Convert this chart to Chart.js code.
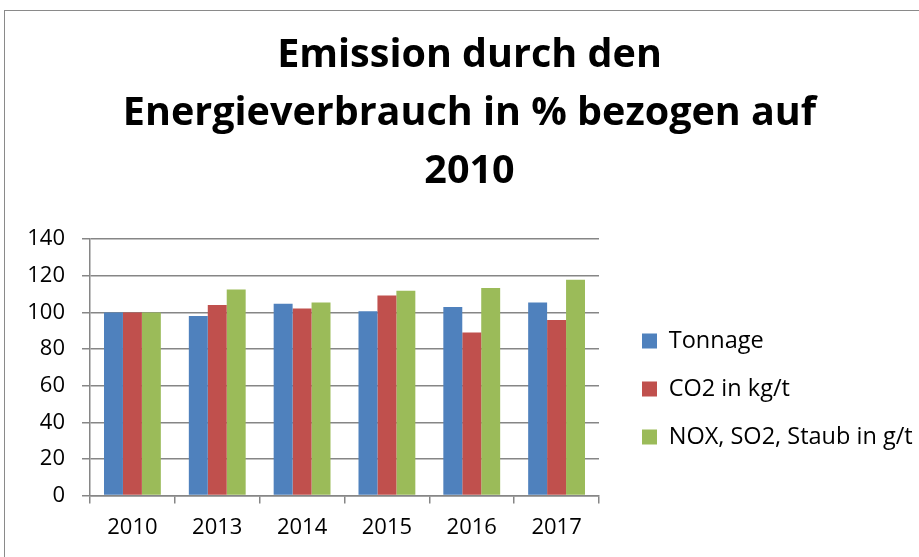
<!DOCTYPE html>
<html>
<head>
<meta charset="utf-8">
<script src="https://cdn.jsdelivr.net/npm/chart.js@4.4.1/dist/chart.umd.min.js"></script>
<style>
  html, body { margin: 0; padding: 0; background: #fff; }
  #wrap { position: relative; width: 919px; height: 557px; overflow: hidden; }
  #frame { position: absolute; left: 4px; top: 10px; width: 1000px; height: 1000px;
           border-left: 1.5px solid #8a8a8a; border-top: 1.5px solid #8a8a8a; }
  #chart { position: absolute; left: 0; top: 0; }
</style>
</head>
<body>
<div id="wrap">
  <div id="frame"></div>
  <canvas id="chart" width="919" height="557"></canvas>
</div>
<script>
const jahre = ['2010', '2013', '2014', '2015', '2016', '2017'];
const tonnage = [100, 98.1, 104.8, 100.6, 103, 105.5];
const co2 = [100, 104.1, 102.2, 109.2, 89, 95.9];
const staub = [100, 112.5, 105.4, 111.9, 113.4, 117.8];
const titelZeilen = ['Emission durch den', 'Energieverbrauch in % bezogen auf', '2010'];

const schrift = "'Open Sans', sans-serif";
const gitter = '#868686';

// Legende rechts: feste Breite, Kaestchen bei x=642, etwas tiefer gesetzt
const legendePlatz = {
    id: 'legendePlatz',
    beforeLayout(chart) {
        const lg = chart.legend;
        if (lg && !lg._breitGesetzt) {
            const fitAlt = lg.fit;
            lg.fit = function () { fitAlt.call(this); this.width = 320; };
            lg._breitGesetzt = true;
        }
    },
    afterLayout(chart) {
        const lg = chart.legend;
        const dx = 642 - (lg.left + lg.options.labels.padding);
        lg.left += dx;
        lg.right += dx;
        lg.top += 113;
        lg.bottom += 113;
    }
};

const ctx = document.getElementById('chart').getContext('2d');
new Chart(ctx, {
    type: 'bar',
    data: {
        labels: jahre,
        datasets: [
            { label: 'Tonnage', data: tonnage, backgroundColor: '#4F81BD' },
            { label: 'CO2 in kg/t', data: co2, backgroundColor: '#C0504D' },
            { label: 'NOX, SO2, Staub in g/t', data: staub, backgroundColor: '#9BBB59' }
        ]
    },
    plugins: [legendePlatz],
    options: {
        responsive: false,
        animation: false,
        datasets: { bar: { categoryPercentage: 0.67, barPercentage: 1.0 } },
        layout: { padding: { left: 20, right: 0, top: 0, bottom: 5 } },
        plugins: {
            title: {
                display: true,
                text: titelZeilen,
                color: '#000',
                font: { family: schrift, size: 39.5, weight: 'bold', lineHeight: 1.47 },
                padding: { top: 27, bottom: 38 }
            },
            legend: {
                position: 'right',
                labels: {
                    color: '#000',
                    font: { family: schrift, size: 23.5 },
                    boxWidth: 15,
                    boxHeight: 15,
                    padding: 24.5
                }
            },
            tooltip: { enabled: false }
        },
        scales: {
            x: {
                grid: { display: true, drawOnChartArea: false, drawTicks: true, tickLength: 8, offset: true, color: gitter, lineWidth: 1.5 },
                border: { display: true, color: gitter, width: 1.5 },
                ticks: { color: '#000', font: { family: schrift, size: 22 }, padding: 11 }
            },
            y: {
                min: 0,
                max: 140,
                afterFit(s) { s.width = 70; },
                ticks: { stepSize: 20, color: '#000', font: { family: schrift, size: 22 }, padding: 17 },
                grid: { color: gitter, lineWidth: 1.5, tickLength: 8 },
                border: { display: true, color: gitter, width: 1.5 }
            }
        }
    }
});
</script>
</body>
</html>
